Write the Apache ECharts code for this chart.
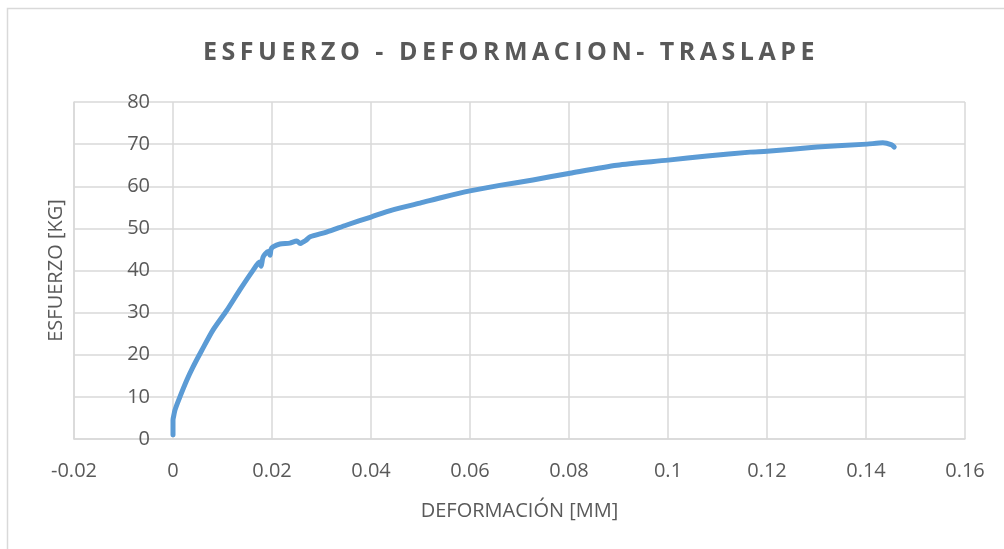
<!DOCTYPE html>
<html>
<head>
<meta charset="utf-8">
<script src="https://cdn.jsdelivr.net/npm/echarts@6/dist/echarts.min.js"></script>
<style>
  html, body { margin: 0; padding: 0; background: #ffffff; }
  #wrap { position: relative; width: 1004px; height: 549px; overflow: hidden; }
  #chart { position: absolute; left: 0; top: 0; width: 1004px; height: 549px; }
  #title {
    position: absolute; left: 0; width: 1022px; top: 33px;
    text-align: center; font-family: "Open Sans", sans-serif; font-weight: 700;
    font-size: 25px; line-height: 34px; letter-spacing: 4.5px; color: #595959;
    pointer-events: none; white-space: nowrap;
  }
</style>
</head>
<body>
<div id="wrap">
  <div id="chart"></div>
  <div id="title">ESFUERZO - DEFORMACION- TRASLAPE</div>
</div>
<script>
// Strain (mm) and load (kg) readings of the lap-splice test
const deformacion = [
  0, 0, 0.0002, 0.0004, 0.0014, 0.0028, 0.004, 0.0058, 0.0081, 0.0109,
  0.0135, 0.0162, 0.0175, 0.0178, 0.0182, 0.0192, 0.0196, 0.0198, 0.0202, 0.0216,
  0.0236, 0.025, 0.0257, 0.0263, 0.0268, 0.0277, 0.031, 0.0351, 0.04, 0.0444,
  0.0499, 0.0545, 0.06, 0.066, 0.0727, 0.0802, 0.0897, 0.1, 0.1079, 0.1166,
  0.12, 0.1301, 0.1402, 0.1434, 0.1452, 0.1457
];
const esfuerzo = [
  1, 4.5, 5.8, 6.9, 10, 14, 17, 21, 25.9, 30.6,
  35.4, 40.1, 42, 41, 43.2, 44.5, 43.6, 45, 45.6, 46.3,
  46.5, 47, 46.4, 46.8, 47.1, 48, 49.1, 50.8, 52.7, 54.4,
  56, 57.4, 58.9, 60.2, 61.5, 63.1, 65, 66.2, 67.2, 68.1,
  68.3, 69.3, 70.0, 70.3, 69.8, 69.3
];

const ejeX = { min: -0.02, max: 0.16, step: 0.02, nombre: 'DEFORMACIÓN [MM]' };
const ejeY = { min: 0, max: 80, step: 10, nombre: 'ESFUERZO [KG]' };

const puntos = deformacion.map((x, i) => [x, esfuerzo[i]]);

const gris = '#595959';
const rejilla = '#d9d9d9';
const fuente = '"Open Sans", sans-serif';

const chart = echarts.init(document.getElementById('chart'), null, { renderer: 'canvas' });
chart.setOption({
  animation: false,
  backgroundColor: '#ffffff',
  graphic: [{
    type: 'rect',
    shape: { x: 7.5, y: 8.5, width: 1200, height: 800 },
    style: { fill: 'none', stroke: rejilla, lineWidth: 1.5 },
    silent: true
  }],
  grid: { left: 74, right: 39, top: 102, bottom: 110, containLabel: false, outerBoundsMode: 'none' },
  xAxis: {
    type: 'value',
    min: ejeX.min, max: ejeX.max, interval: ejeX.step,
    name: ejeX.nombre,
    nameLocation: 'middle',
    nameGap: 62,
    nameTextStyle: { color: gris, fontFamily: fuente, fontSize: 20 },
    axisLine: { show: true, onZero: false, lineStyle: { color: rejilla, width: 1.5 } },
    axisTick: { show: false },
    axisLabel: {
      color: gris, fontFamily: fuente, fontSize: 20, margin: 22,
      formatter: v => String(Math.round(v * 1000) / 1000)
    },
    splitLine: { show: true, lineStyle: { color: rejilla, width: 1.5 } }
  },
  yAxis: {
    type: 'value',
    min: ejeY.min, max: ejeY.max, interval: ejeY.step,
    name: ejeY.nombre,
    nameLocation: 'middle',
    nameGap: 8,
    nameRotate: 90,
    nameMoveOverlap: false,
    nameTextStyle: { color: gris, fontFamily: fuente, fontSize: 20 },
    axisLine: { show: true, onZero: false, lineStyle: { color: rejilla, width: 1.5 } },
    axisTick: { show: false },
    // labels sit just left of the x = 0 gridline, where the vertical axis crosses
    axisLabel: { color: gris, fontFamily: fuente, fontSize: 20, margin: -76 },
    splitLine: { show: true, lineStyle: { color: rejilla, width: 1.5 } }
  },
  series: [{
    type: 'line',
    data: puntos,
    showSymbol: false,
    smooth: 0.25,
    lineStyle: { color: '#5b9bd5', width: 5, cap: 'round', join: 'round' },
    itemStyle: { color: '#5b9bd5' },
    z: 3
  }]
});
</script>
</body>
</html>
